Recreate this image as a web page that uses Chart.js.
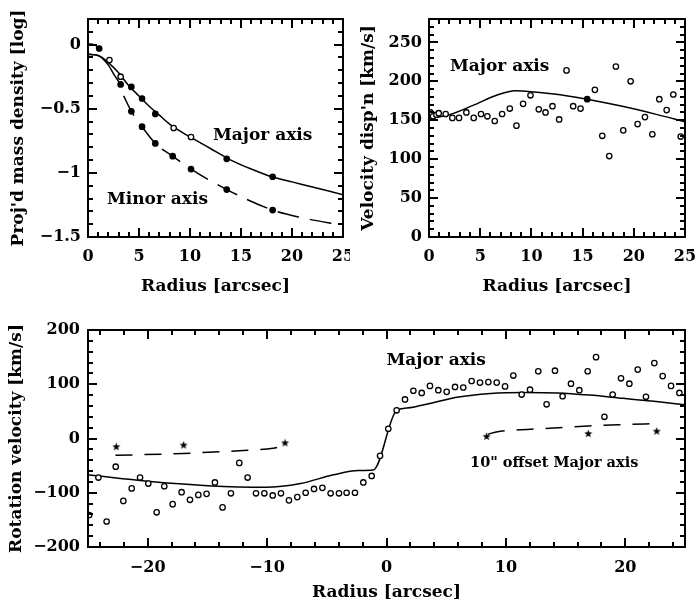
<!DOCTYPE html>
<html>
<head>
<meta charset="utf-8">
<script src="https://cdn.jsdelivr.net/npm/chart.js@4.4.1/dist/chart.umd.min.js"></script>
<style>
  html, body { margin: 0; padding: 0; background: #fff; }
  #wrap { position: relative; width: 698px; height: 605px; overflow: hidden; }
  canvas { position: absolute; }
</style>
</head>
<body>
<div id="wrap">
  <canvas id="densChart" width="350" height="300" style="left:0;top:0"></canvas>
  <canvas id="dispChart" width="348" height="300" style="left:350px;top:0"></canvas>
  <canvas id="rotChart" width="698" height="305" style="left:0;top:300px"></canvas>
</div>
<script>
// --- Data: projected mass density (top left) ---
const densMajR = [1.1, 2.1, 3.2, 4.25, 5.3, 6.6, 8.4, 10.1, 13.6, 18.1];
const densMajV = [-0.03, -0.12, -0.25, -0.33, -0.42, -0.54, -0.65, -0.72, -0.89, -1.03];
const densMajFilled = [true, false, false, true, true, true, false, false, true, true];
const densMinR = [3.2, 4.25, 5.3, 6.6, 8.3, 10.1, 13.6, 18.1];
const densMinV = [-0.31, -0.52, -0.64, -0.77, -0.87, -0.97, -1.13, -1.29];

const densCoreR = [0, 0.6, 1.1];
const densCoreV = [0.005, 0.0, -0.03];
const densMajModelR = [0, 1, 2, 3, 4, 5, 6, 7, 8, 10, 12, 14, 16, 18, 20, 22, 25];
const densMajModelV = [-0.075, -0.085, -0.14, -0.22, -0.32, -0.40, -0.48, -0.55, -0.62, -0.72, -0.81, -0.90, -0.97, -1.03, -1.07, -1.11, -1.17];
const densMinInnerR = [0, 1, 2, 2.6, 3.2];
const densMinInnerV = [-0.075, -0.085, -0.16, -0.24, -0.31];
const densMinModelR = [3.5, 4.25, 5.3, 6.6, 8.3, 10.1, 13.6, 18.1, 21, 25];
const densMinModelV = [-0.40, -0.52, -0.64, -0.77, -0.87, -0.97, -1.13, -1.29, -1.35, -1.41];

const densXTicks = [0, 5, 10, 15, 20, 25];
const densYTicks = [0, -0.5, -1, -1.5];

// --- Data: velocity dispersion (top right) ---
const dispR = [0.13, 0.39, 0.72, 0.95, 1.63, 2.28, 2.93, 3.65, 4.37, 5.08, 5.70, 6.42, 7.14, 7.89, 8.54, 9.19, 9.91,
  10.72, 11.38, 12.06, 12.71, 13.43, 14.08, 14.80, 15.45, 16.20, 16.92, 17.60, 18.25, 18.97, 19.69, 20.37,
  21.09, 21.81, 22.49, 23.21, 23.86, 24.58];
const dispV = [160, 155, 157, 159, 158, 153, 153, 160, 153, 158, 155, 149, 158, 165, 143, 171, 182,
  164, 160, 168, 151, 214, 168, 165, 177, 189, 130, 104, 219, 137, 200, 145,
  154, 132, 177, 163, 183, 129];
const dispFilledIndex = 24;
const dispModelR = [0, 2, 4.3, 6.6, 8.4, 10.8, 13.4, 15.45, 19, 22.2, 25];
const dispModelV = [152, 157, 169, 182, 188, 185.5, 181.5, 177, 167.5, 157.5, 148];

const dispXTicks = [0, 5, 10, 15, 20, 25];
const dispYTicks = [0, 50, 100, 150, 200, 250];

// --- Data: rotation velocity (bottom) ---
const rotR = [-24.9, -24.13, -23.44, -22.68, -22.04, -21.34, -20.64, -19.95, -19.25, -18.61, -17.91, -17.16,
  -16.46, -15.76, -15.07, -14.37, -13.73, -13.03, -12.33, -11.63, -10.93, -10.23, -9.53, -8.84, -8.17,
  -7.47, -6.77, -6.07, -5.37, -4.68, -3.98, -3.34, -2.64, -1.94, -1.24, -0.54, 0.15, 0.85, 1.55, 2.25,
  2.95, 3.64, 4.34, 5.04, 5.74, 6.43, 7.13, 7.83, 8.53, 9.23, 9.93, 10.62, 11.32, 12.02, 12.71, 13.41,
  14.11, 14.75, 15.45, 16.15, 16.85, 17.55, 18.25, 18.94, 19.64, 20.34, 21.04, 21.73, 22.43, 23.13,
  23.83, 24.53];
const rotV = [-141, -72, -153, -52, -115, -92, -72, -83, -136, -88, -121, -99,
  -113, -104, -102, -81, -127, -101, -45, -72, -101, -101, -105, -101, -114,
  -108, -100, -93, -91, -101, -101, -100, -100, -81, -69, -32, 18, 52, 72, 88,
  84, 97, 89, 86, 95, 94, 106, 103, 104, 103, 96, 116, 81, 90, 124, 63,
  125, 78, 101, 89, 124, 150, 40, 81, 111, 101, 127, 77, 139, 115,
  97, 84];
const rotModelR = [-25, -20, -15, -10.1, -7.2, -4.45, -2.36, -1.1, 0.85, 1.7, 3.9, 5.9, 8.7, 11.5, 14.3, 17.0, 19.8, 22.6, 25];
const rotModelV = [-67, -79, -87, -90, -83, -67, -59, -58, 52, 56, 66, 76, 83, 85, 84, 80, 74, 68, 62];

const offLeftR = [-22.7, -17, -12, -9.5, -8.4];
const offLeftV = [-31, -27.5, -22, -18, -12];
const offRightR = [8.5, 9.2, 12.9, 16.9, 19.8, 22.6];
const offRightV = [8, 12, 18, 23, 25.5, 27.5];
const starR = [-22.63, -16.99, -8.5, 8.39, 16.9, 22.63];
const starV = [-15, -12, -8, 4, 9, 13.5];

const rotXTicks = [-20, -10, 0, 10, 20];
const rotYTicks = [-200, -100, 0, 100, 200];

// --- Helpers ---
Chart.defaults.font.family = "'DejaVu Serif', serif";
Chart.defaults.font.weight = 'bold';
Chart.defaults.font.size = 16;
Chart.defaults.color = '#000';

const pts = (xs, ys) => xs.map((x, i) => ({ x, y: ys[i] }));
const fmt = v => (v < 0 ? '\u2212' : '') + Math.abs(v);

function curve(xs, ys, dash) {
    return {
        data: pts(xs, ys),
        showLine: true,
        borderColor: '#000',
        borderWidth: 1.5,
        borderDash: dash || [],
        pointRadius: 0,
        cubicInterpolationMode: 'monotone',
        fill: false,
        order: 2
    };
}

function markers(xs, ys, filled, style) {
    return {
        data: pts(xs, ys),
        showLine: false,
        pointStyle: style || 'circle',
        pointRadius: style ? 4 : 2.7,
        pointBorderWidth: 1.3,
        pointBorderColor: '#000',
        pointBackgroundColor: xs.map((_, i) => filled[i] ? '#000' : '#fff'),
        order: 1
    };
}

// small filled five-point star used for the offset-axis points
function makeStar() {
    const c = document.createElement('canvas');
    c.width = 9; c.height = 9;
    const g = c.getContext('2d');
    g.beginPath();
    for (let i = 0; i < 10; i++) {
        const r = i % 2 ? 1.8 : 4.3;
        const a = -Math.PI / 2 + i * Math.PI / 5;
        g.lineTo(4.5 + r * Math.cos(a), 4.8 + r * Math.sin(a));
    }
    g.closePath();
    g.fillStyle = '#000';
    g.fill();
    return c;
}

// tick values between min and max on a fixed step
function stepValues(min, max, step) {
    const out = [];
    const start = Math.ceil(min / step - 1e-6);
    const end = Math.floor(max / step + 1e-6);
    for (let i = start; i <= end; i++) out.push(i * step);
    return out;
}

const isMultiple = (v, step) => Math.abs(v / step - Math.round(v / step)) < 1e-6;

// frame with inward ticks on all four sides, like the old plotting packages
function frameTicks(spec) {
    return {
        id: 'frameTicks',
        afterDraw(chart) {
            const ctx = chart.ctx;
            const a = chart.chartArea;
            const xs = chart.scales.x;
            const ys = chart.scales.y;
            const L = Math.round(a.left), R = Math.round(a.right);
            const T = Math.round(a.top), B = Math.round(a.bottom);
            ctx.save();
            ctx.setLineDash([]);
            ctx.strokeStyle = '#000';
            ctx.lineWidth = 2;
            stepValues(xs.min, xs.max, spec.xMinor).forEach(v => {
                const len = isMultiple(v, spec.xMajor) ? 9 : 5;
                const p = Math.round(xs.getPixelForValue(v));
                ctx.beginPath();
                ctx.moveTo(p, B);
                ctx.lineTo(p, B - len);
                ctx.moveTo(p, T);
                ctx.lineTo(p, T + len);
                ctx.stroke();
            });
            stepValues(ys.min, ys.max, spec.yMinor).forEach(v => {
                const len = isMultiple(v, spec.yMajor) ? 9 : 5;
                const p = Math.round(ys.getPixelForValue(v));
                ctx.beginPath();
                ctx.moveTo(L, p);
                ctx.lineTo(L + len, p);
                ctx.moveTo(R, p);
                ctx.lineTo(R - len, p);
                ctx.stroke();
            });
            ctx.strokeRect(L, T, R - L, B - T);
            ctx.restore();
        }
    };
}

// text labels placed in data coordinates
function plotLabels(items) {
    return {
        id: 'plotLabels',
        afterDatasetsDraw(chart) {
            const { ctx, scales: { x, y } } = chart;
            ctx.save();
            ctx.fillStyle = '#000';
            ctx.textAlign = 'left';
            ctx.textBaseline = 'middle';
            items.forEach(it => {
                ctx.font = `bold ${it.size || 17}px 'DejaVu Serif', serif`;
                ctx.fillText(it.text, x.getPixelForValue(it.x), y.getPixelForValue(it.y));
            });
            ctx.restore();
        }
    };
}

function axis(min, max, ticks, title, o) {
    return {
        type: 'linear',
        min, max,
        grid: { display: false, drawTicks: false },
        border: { display: false },
        afterBuildTicks: s => { s.ticks = ticks.map(v => ({ value: v })); },
        ticks: { padding: o.tickPad, maxRotation: 0, autoSkip: false, callback: fmt },
        title: { display: true, text: title, font: { size: 17, lineHeight: 1 }, padding: o.titlePad },
        afterFit: s => {
            if (o.width) s.width = o.width;
            if (o.height) s.height = o.height;
            s.paddingLeft = 0; s.paddingRight = 0; s.paddingTop = 0; s.paddingBottom = 0;
        }
    };
}

function makeChart(id, datasets, scales, padding, tickSpec, labels) {
    return new Chart(document.getElementById(id), {
        type: 'scatter',
        data: { datasets },
        options: {
            responsive: false,
            animation: false,
            events: [],
            layout: { padding },
            scales,
            plugins: {
                legend: { display: false },
                tooltip: { enabled: false }
            }
        },
        plugins: [plotLabels(labels), frameTicks(tickSpec)]
    });
}

// --- Top left: projected mass density ---
makeChart('densChart', [
    curve(densCoreR, densCoreV),
    curve(densMajModelR, densMajModelV),
    curve(densMinInnerR, densMinInnerV),
    curve(densMinModelR, densMinModelV, [22, 11]),
    markers(densMajR, densMajV, densMajFilled),
    markers(densMinR, densMinV, densMinR.map(() => true))
], {
    x: axis(0, 25, densXTicks, 'Radius [arcsec]', { tickPad: 10, titlePad: { top: 0, bottom: 5 }, height: 63 }),
    y: axis(-1.5, 0.2, densYTicks, "Proj'd mass density [log]", { tickPad: 7, titlePad: { top: 10, bottom: 0 }, width: 88 })
}, { top: 19, right: 7, left: 0, bottom: 0 },
{ xMinor: 1, xMajor: 5, yMinor: 0.1, yMajor: 0.5 },
[
    { text: 'Major axis', x: 12.25, y: -0.71 },
    { text: 'Minor axis', x: 1.86, y: -1.21 }
]);

// --- Top right: velocity dispersion ---
makeChart('dispChart', [
    curve(dispModelR, dispModelV),
    markers(dispR, dispV, dispR.map((_, i) => i === dispFilledIndex))
], {
    x: axis(0, 25, dispXTicks, 'Radius [arcsec]', { tickPad: 10, titlePad: { top: 0, bottom: 5 }, height: 63 }),
    y: axis(0, 280, dispYTicks, "Velocity disp'n [km/s]", { tickPad: 7, titlePad: { top: 10, bottom: 0 }, width: 79 })
}, { top: 19, right: 13, left: 0, bottom: 0 },
{ xMinor: 1, xMajor: 5, yMinor: 10, yMajor: 50 },
[
    { text: 'Major axis', x: 2.05, y: 219 }
]);

// --- Bottom: rotation velocity ---
makeChart('rotChart', [
    curve(rotModelR, rotModelV),
    curve(offLeftR, offLeftV, [17, 12]),
    curve(offRightR, offRightV, [17, 12]),
    markers(rotR, rotV, rotR.map(() => false)),
    markers(starR, starV, starR.map(() => true), makeStar())
], {
    x: axis(-25, 25, rotXTicks, 'Radius [arcsec]', { tickPad: 11, titlePad: { top: 0, bottom: 4 }, height: 58 }),
    y: axis(-200, 200, rotYTicks, 'Rotation velocity [km/s]', { tickPad: 8, titlePad: { top: 8, bottom: 0 }, width: 88 })
}, { top: 30, right: 13, left: 0, bottom: 0 },
{ xMinor: 2, xMajor: 10, yMinor: 20, yMajor: 100 },
[
    { text: 'Major axis', x: 0.0, y: 144 },
    { text: '10" offset Major axis', x: 7.0, y: -45, size: 14.5 }
]);
</script>
</body>
</html>
